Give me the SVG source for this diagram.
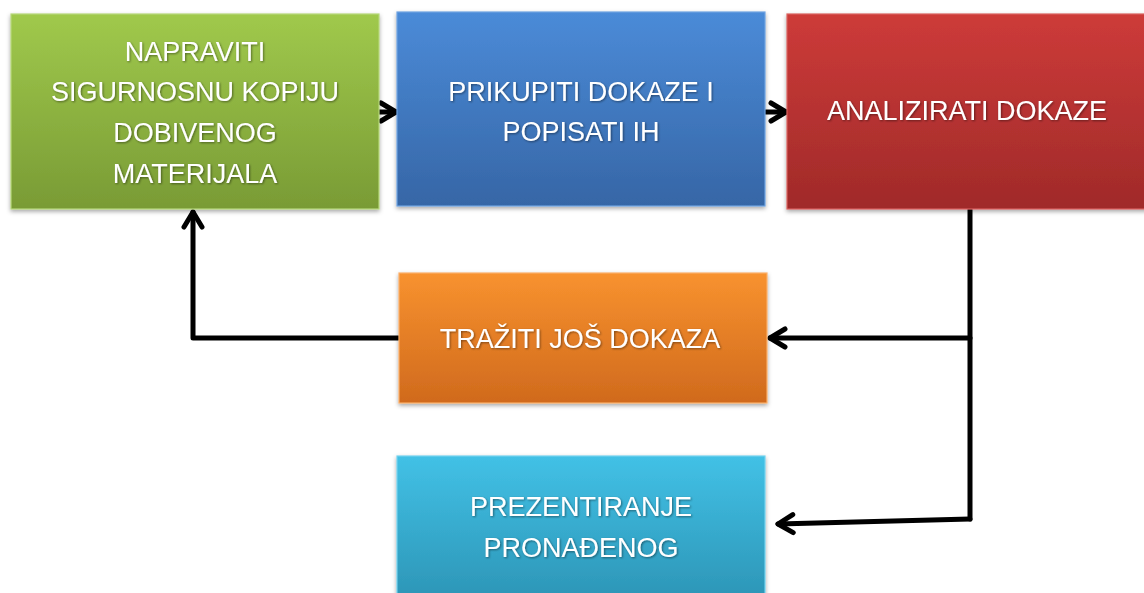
<svg xmlns="http://www.w3.org/2000/svg" width="1144" height="593" viewBox="0 0 1144 593">
<defs>
<linearGradient id="gGreen" x1="0" y1="0" x2="0" y2="1"><stop offset="0" stop-color="#a0c94c"/><stop offset="1" stop-color="#799b35"/></linearGradient>
<linearGradient id="gBlue" x1="0" y1="0" x2="0" y2="1"><stop offset="0" stop-color="#4b8bd8"/><stop offset="1" stop-color="#3666a6"/></linearGradient>
<linearGradient id="gRed" x1="0" y1="0" x2="0" y2="1"><stop offset="0" stop-color="#cd3b39"/><stop offset="1" stop-color="#a02a29"/></linearGradient>
<linearGradient id="gOrange" x1="0" y1="0" x2="0" y2="1"><stop offset="0" stop-color="#f8922f"/><stop offset="1" stop-color="#d06a1d"/></linearGradient>
<linearGradient id="gCyan" x1="0" y1="0" x2="0" y2="1"><stop offset="0" stop-color="#42c1e6"/><stop offset="1" stop-color="#2c95b6"/></linearGradient>
<filter id="shadow" x="-5%" y="-5%" width="110%" height="115%"><feDropShadow dx="0" dy="2" stdDeviation="2" flood-color="#000" flood-opacity="0.35"/></filter>
<filter id="tshadow" x="-5%" y="-20%" width="110%" height="140%"><feDropShadow dx="1" dy="1" stdDeviation="0.8" flood-color="#000" flood-opacity="0.45"/></filter>
<marker id="chev" viewBox="0 0 24 24" markerWidth="24" markerHeight="24" markerUnits="userSpaceOnUse" refX="20" refY="12" orient="auto">
<path d="M5,3 L20,12 L5,21" fill="none" stroke="#000" stroke-width="5" stroke-linecap="round" stroke-linejoin="round"/>
</marker>
</defs>
<style>
.box{filter:url(#shadow);stroke-width:1.2;}
.lbl{font-family:"Liberation Sans",Arial,sans-serif;font-size:27px;fill:#ffffff;text-anchor:middle;filter:url(#tshadow);}
.conn{fill:none;stroke:#000;stroke-width:5;stroke-linecap:round;stroke-linejoin:round;}
</style>
<rect width="1144" height="593" fill="#ffffff"/>
<g id="connectors">
<line class="conn" x1="379" y1="112" x2="396" y2="112" marker-end="url(#chev)"/>
<line class="conn" x1="765" y1="112" x2="786" y2="112" marker-end="url(#chev)"/>
<polyline class="conn" points="970,209 970,519"/>
<line class="conn" x1="970" y1="338" x2="770" y2="338" marker-end="url(#chev)"/>
<line class="conn" x1="970" y1="519" x2="778" y2="524" marker-end="url(#chev)"/>
<polyline class="conn" points="399,338 193,338 193,212" marker-end="url(#chev)"/>
</g>
<g id="node-napraviti">
<rect class="box" x="11" y="14" width="368" height="195" fill="url(#gGreen)" stroke="#b6d77a"/>
<text class="lbl" x="195" y="61">NAPRAVITI</text>
<text class="lbl" x="195" y="101">SIGURNOSNU KOPIJU</text>
<text class="lbl" x="195" y="142">DOBIVENOG</text>
<text class="lbl" x="195" y="183">MATERIJALA</text>
</g>
<g id="node-prikupiti">
<rect class="box" x="397" y="12" width="368" height="194" fill="url(#gBlue)" stroke="#6fa3e2"/>
<text class="lbl" x="581" y="101">PRIKUPITI DOKAZE I</text>
<text class="lbl" x="581" y="141">POPISATI IH</text>
</g>
<g id="node-analizirati">
<rect class="box" x="787" y="14" width="370" height="195" fill="url(#gRed)" stroke="#d9625f"/>
<text class="lbl" x="967" y="120">ANALIZIRATI DOKAZE</text>
</g>
<g id="node-traziti">
<rect class="box" x="399" y="273" width="368" height="130" fill="url(#gOrange)" stroke="#fbb06a"/>
<text class="lbl" x="580" y="348">TRAŽITI JOŠ DOKAZA</text>
</g>
<g id="node-prezentiranje">
<rect class="box" x="397" y="456" width="368" height="145" fill="url(#gCyan)" stroke="#74d2ee"/>
<text class="lbl" x="581" y="516">PREZENTIRANJE</text>
<text class="lbl" x="581" y="557">PRONAĐENOG</text>
</g>
</svg>
